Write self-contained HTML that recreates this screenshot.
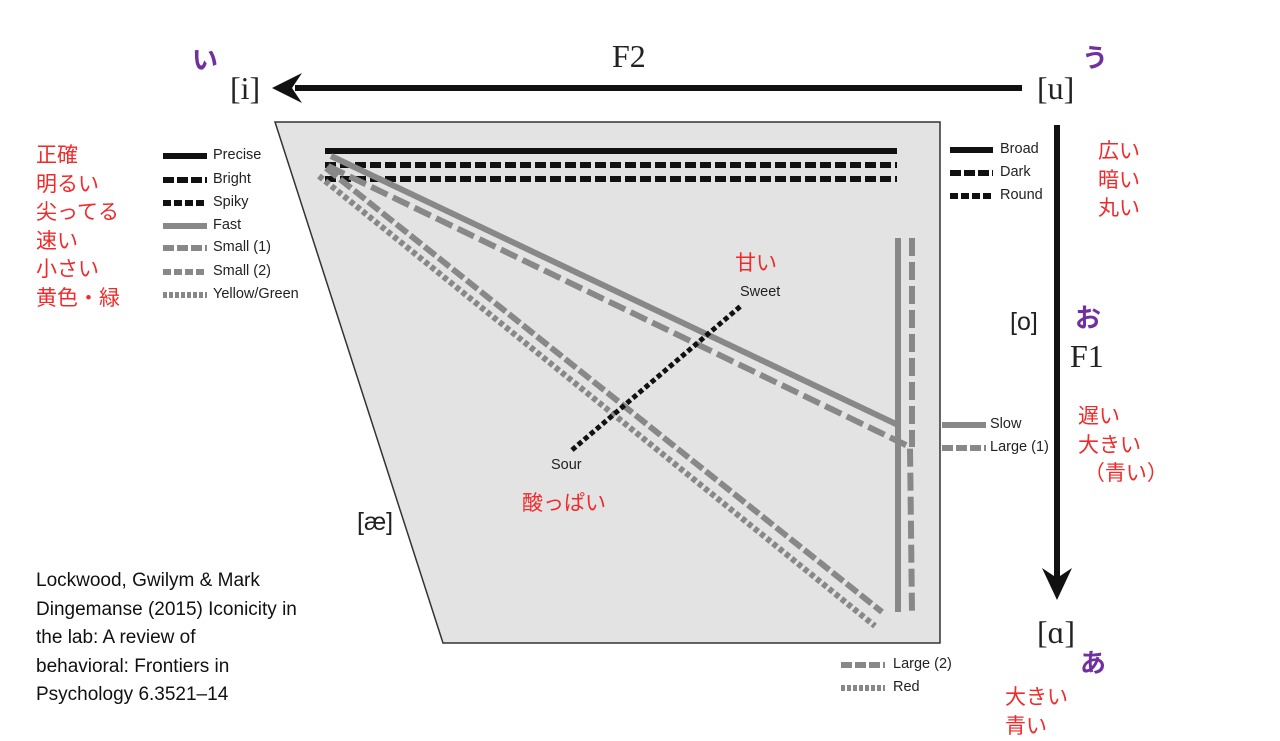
<!DOCTYPE html>
<html><head><meta charset="utf-8"><style>
body{margin:0;width:1280px;height:720px;background:#fff;overflow:hidden;position:relative;font-family:"Liberation Sans","Noto Sans CJK JP",sans-serif}
.t{position:absolute;white-space:nowrap}
.r{color:#f02a2a;font-size:21px;line-height:28.5px}
.p{color:#7030a0;font-size:26px;font-weight:bold}
.s{font-family:"Liberation Serif",serif;font-size:32px;color:#222}
.lg{font-size:14.5px;color:#222}
</style></head><body>
<svg width="1280" height="720" style="position:absolute;left:0;top:0">
<polygon points="275,122 940,122 940,643 443,643" fill="#e3e3e3" stroke="#333" stroke-width="1.5"/>
<!-- F2 arrow -->
<line x1="1022" y1="88" x2="295" y2="88" stroke="#111" stroke-width="6"/>
<polygon points="272,88 302,73 292,88 302,103" fill="#111"/>
<!-- F1 arrow -->
<line x1="1057" y1="125" x2="1057" y2="578" stroke="#111" stroke-width="6"/>
<polygon points="1057,600 1042,568 1057,578 1072,568" fill="#111"/>
<!-- top black lines -->
<line x1="325" y1="151" x2="897" y2="151" stroke="#111" stroke-width="6"/>
<line x1="325" y1="165" x2="897" y2="165" stroke="#111" stroke-width="6" stroke-dasharray="11,4"/>
<line x1="325" y1="179" x2="897" y2="179" stroke="#111" stroke-width="6" stroke-dasharray="11,4"/>
<!-- gray lines -->
<polyline points="331,156 898,425 898,612" fill="none" stroke="#888" stroke-width="6"/>
<polyline points="328,166 910,447 912,612" fill="none" stroke="#888" stroke-width="6" stroke-dasharray="18,6"/>
<line x1="912" y1="238" x2="912" y2="447" stroke="#888" stroke-width="6" stroke-dasharray="18,6"/>
<line x1="898" y1="238" x2="898" y2="425" stroke="#888" stroke-width="6"/>
<line x1="326" y1="168" x2="882" y2="612" stroke="#888" stroke-width="6" stroke-dasharray="14,4"/>
<line x1="319" y1="176" x2="875" y2="626" stroke="#888" stroke-width="6" stroke-dasharray="5,3"/>
<!-- sweet sour -->
<line x1="572" y1="450" x2="742" y2="305" stroke="#111" stroke-width="5" stroke-dasharray="5,3"/>
<!-- legend swatches -->
<line x1="163" y1="156" x2="207" y2="156" stroke="#111" stroke-width="6"/>
<line x1="163" y1="180" x2="207" y2="180" stroke="#111" stroke-width="6" stroke-dasharray="11,3"/>
<line x1="163" y1="203" x2="207" y2="203" stroke="#111" stroke-width="6" stroke-dasharray="8,3"/>
<line x1="163" y1="226" x2="207" y2="226" stroke="#888" stroke-width="6"/>
<line x1="163" y1="248" x2="207" y2="248" stroke="#888" stroke-width="6" stroke-dasharray="11,3"/>
<line x1="163" y1="272" x2="207" y2="272" stroke="#888" stroke-width="6" stroke-dasharray="8,3"/>
<line x1="163" y1="295" x2="207" y2="295" stroke="#888" stroke-width="6" stroke-dasharray="4,2"/>
<line x1="950" y1="150" x2="993" y2="150" stroke="#111" stroke-width="6"/>
<line x1="950" y1="173" x2="993" y2="173" stroke="#111" stroke-width="6" stroke-dasharray="11,3"/>
<line x1="950" y1="196" x2="993" y2="196" stroke="#111" stroke-width="6" stroke-dasharray="8,3"/>
<line x1="942" y1="425" x2="986" y2="425" stroke="#888" stroke-width="6"/>
<line x1="942" y1="448" x2="986" y2="448" stroke="#888" stroke-width="6" stroke-dasharray="11,3"/>
<line x1="841" y1="665" x2="885" y2="665" stroke="#888" stroke-width="6" stroke-dasharray="11,3"/>
<line x1="841" y1="688" x2="885" y2="688" stroke="#888" stroke-width="6" stroke-dasharray="4,2"/>
</svg>
<div class="t s" style="left:612px;top:38px">F2</div>
<div class="t s" style="left:230px;top:70px">[i]</div>
<div class="t s" style="left:1037px;top:70px">[u]</div>
<div class="t p" style="left:192px;top:40px">い</div>
<div class="t p" style="left:1082px;top:38px">う</div>
<div class="t lg" style="left:213px;top:147px">Precise</div>
<div class="t lg" style="left:213px;top:171px">Bright</div>
<div class="t lg" style="left:213px;top:194px">Spiky</div>
<div class="t lg" style="left:213px;top:217px">Fast</div>
<div class="t lg" style="left:213px;top:239px">Small (1)</div>
<div class="t lg" style="left:213px;top:263px">Small (2)</div>
<div class="t lg" style="left:213px;top:286px">Yellow/Green</div>
<div class="t lg" style="left:1000px;top:141px">Broad</div>
<div class="t lg" style="left:1000px;top:164px">Dark</div>
<div class="t lg" style="left:1000px;top:187px">Round</div>
<div class="t lg" style="left:990px;top:416px">Slow</div>
<div class="t lg" style="left:990px;top:439px">Large (1)</div>
<div class="t lg" style="left:893px;top:656px">Large (2)</div>
<div class="t lg" style="left:893px;top:679px">Red</div>
<div class="t lg" style="left:740px;top:284px">Sweet</div>
<div class="t lg" style="left:551px;top:457px">Sour</div>
<div class="t r" style="left:36px;top:142px">正確<br>明るい<br>尖ってる<br>速い<br>小さい<br>黄色・緑</div>
<div class="t r" style="left:1098px;top:138px">広い<br>暗い<br>丸い</div>
<div class="t r" style="left:1078px;top:403px">遅い<br>大きい<br>&nbsp;（青い）</div>
<div class="t r" style="left:735px;top:250px">甘い</div>
<div class="t r" style="left:522px;top:490px">酸っぱい</div>
<div class="t r" style="left:1005px;top:684px">大きい<br>青い</div>
<div class="t" style="left:1010px;top:308px;font-size:25px;color:#222">[o]</div>
<div class="t p" style="left:1075px;top:298px">お</div>
<div class="t s" style="left:1070px;top:338px">F1</div>
<div class="t s" style="left:1037px;top:614px">[ɑ]</div>
<div class="t p" style="left:1080px;top:643px">あ</div>
<div class="t" style="left:357px;top:508px;font-size:25px;color:#222">[æ]</div>
<div class="t" style="left:36px;top:567px;font-size:19px;line-height:28.5px;color:#111">Lockwood, Gwilym &amp; Mark<br>Dingemanse (2015) Iconicity in<br>the lab: A review of<br>behavioral: Frontiers in<br>Psychology 6.3521–14</div>
</body></html>
